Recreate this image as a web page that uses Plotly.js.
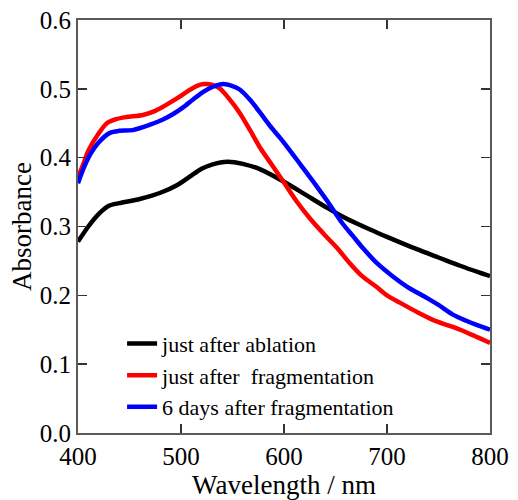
<!DOCTYPE html>
<html>
<head>
<meta charset="utf-8">
<script src="https://cdn.plot.ly/plotly-3.0.1.min.js"></script>
<style>
html,body{margin:0;padding:0;background:#fff;}
#chart{width:518px;height:500px;}
</style>
</head>
<body>
<div id="chart"></div>
<script>
const seriesNames = ["just after ablation", "just after  fragmentation", "6 days after fragmentation"];

const ablationX = [400,410,420,430,440,460,480,496,510,520,530,545,560,577,600,620,642,660,683,700,729,750,771,790,800];
const ablationY = [0.278,0.300,0.318,0.330,0.334,0.340,0.349,0.360,0.374,0.384,0.390,0.394,0.391,0.383,0.365,0.347,0.327,0.312,0.296,0.285,0.267,0.255,0.243,0.233,0.228];

const fragX = [400,405,410,420,428,437,447,463,475,486,496,506,515,522,530,538,547,557,567,577,588,599,612,625,640,652,663,675,690,700,713,730,745,760,771,785,797,800];
const fragY = [0.372,0.390,0.410,0.435,0.450,0.456,0.459,0.462,0.468,0.477,0.486,0.496,0.504,0.507,0.506,0.500,0.485,0.465,0.440,0.414,0.390,0.366,0.337,0.312,0.287,0.268,0.248,0.229,0.212,0.200,0.189,0.175,0.164,0.156,0.150,0.141,0.133,0.131];

const daysX = [400,405,412,420,431,440,453,470,482,492,502,512,522,531,541,550,557,567,577,586,596,606,616,630,642,657,667,677,690,706,720,739,750,764,777,787,800];
const daysY = [0.363,0.383,0.405,0.422,0.436,0.439,0.440,0.448,0.455,0.463,0.473,0.485,0.496,0.503,0.507,0.504,0.499,0.484,0.465,0.447,0.429,0.410,0.390,0.362,0.337,0.304,0.286,0.268,0.247,0.227,0.212,0.196,0.186,0.172,0.163,0.157,0.150];

const colors = ["#000000", "#ff0000", "#0000ff"];
const xs = [ablationX, fragX, daysX];
const ys = [ablationY, fragY, daysY];

const traces = seriesNames.map((n, i) => ({
  x: xs[i], y: ys[i], name: n, type: "scatter", mode: "lines",
  line: {color: colors[i], width: 4.5, shape: "spline", smoothing: 0.8}
}));

const fontFam = "Liberation Serif";

function makeAxis(extra) {
  return Object.assign({
    showgrid: false, zeroline: false, showline: true, linecolor: "#5a5a5a", linewidth: 2,
    mirror: "ticks", ticks: "inside", ticklen: 9, tickwidth: 1.5, tickcolor: "#333",
    tickfont: {family: fontFam, size: 25, color: "#000"}, automargin: false
  }, extra);
}

const layout = {
  width: 518, height: 500,
  margin: {l: 78, r: 28, t: 20, b: 67},
  paper_bgcolor: "#fff", plot_bgcolor: "#fff",
  font: {family: fontFam, color: "#000"},
  showlegend: true,
  legend: {x: 0.107, y: 0.267, xanchor: "left", yanchor: "top", bgcolor: "rgba(0,0,0,0)",
           font: {family: fontFam, size: 22, color: "#000"}, itemwidth: 30, tracegroupgap: 0},
  xaxis: makeAxis({range: [400, 800], dtick: 100, tick0: 400,
    title: {text: "Wavelength / nm", font: {family: fontFam, size: 27, color: "#000"}, standoff: 10}}),
  yaxis: makeAxis({range: [0, 0.6], dtick: 0.1, tick0: 0, tickformat: ".1f",
    title: {text: "Absorbance", font: {family: fontFam, size: 27, color: "#000"}, standoff: 0}})
};

Plotly.newPlot("chart", traces, layout, {displayModeBar: false, staticPlot: true});
</script>
</body>
</html>
